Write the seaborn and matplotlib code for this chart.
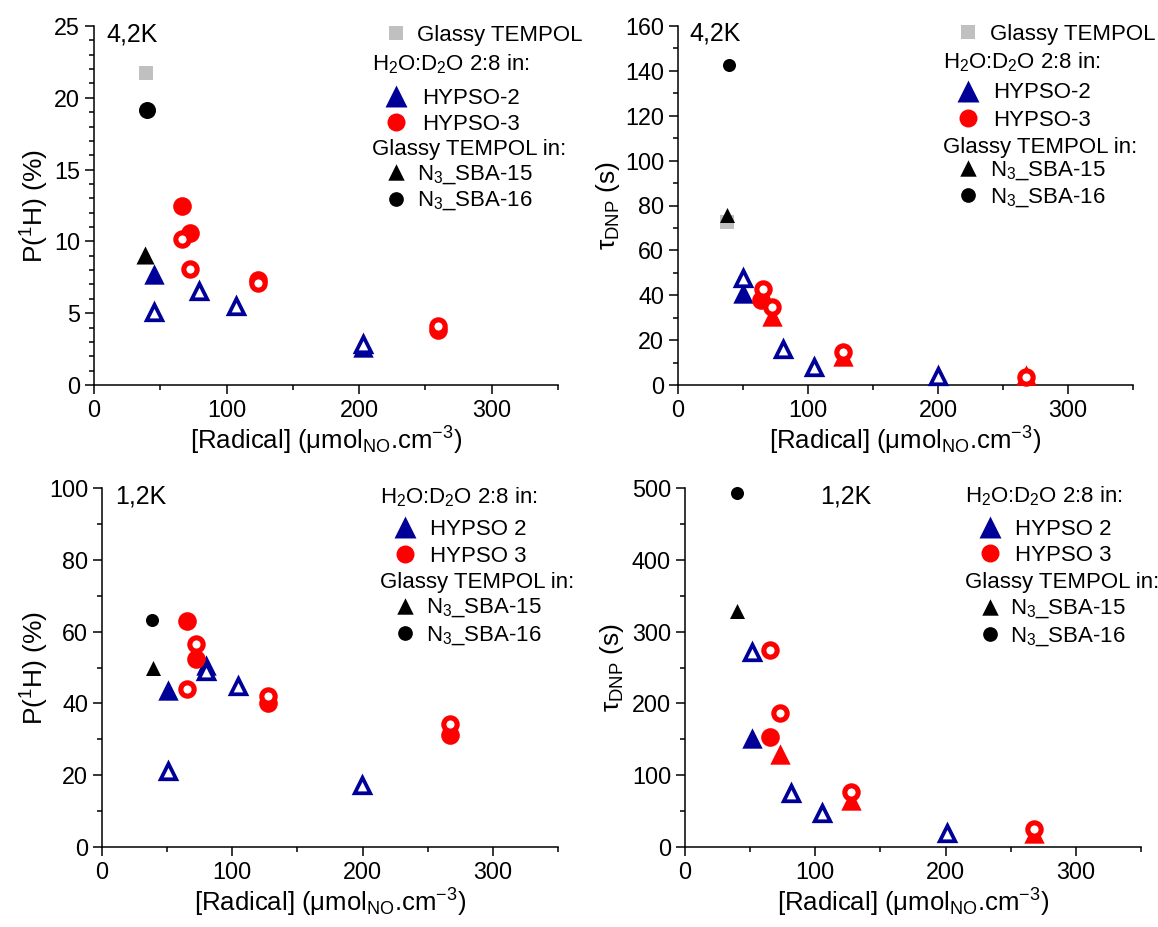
import matplotlib
matplotlib.use("Agg")
import matplotlib.pyplot as plt
from matplotlib.ticker import MultipleLocator
import seaborn as sns

sns.set_style("ticks")
plt.rcParams["font.family"] = ["Liberation Sans", "DejaVu Sans"]
plt.rcParams["mathtext.fontset"] = "custom"
plt.rcParams["mathtext.rm"] = "Liberation Sans"
plt.rcParams["mathtext.it"] = "Liberation Sans:italic"
plt.rcParams["mathtext.bf"] = "Liberation Sans:bold"
for key in ("text.color", "axes.labelcolor", "xtick.color", "ytick.color"):
    plt.rcParams[key] = "black"

BLUE = "#000099"
RED = "#ff0000"
GREY = "#c0c0c0"
FS_KEY = 16
FS_TICK = 16.8
FS_LAB = 18.5
FS_TEMP = 18

# ---- P(1H) at 4,2K
pol42_glassy_x = [39]
pol42_glassy_y = [21.7]
pol42_sba15_x = [38.5]
pol42_sba15_y = [9.05]
pol42_sba16_x = [40]
pol42_sba16_y = [19.15]
pol42_h2_fill_x = [45, 203]
pol42_h2_fill_y = [7.7, 2.65]
pol42_h2_open_x = [45, 79, 107, 203]
pol42_h2_open_y = [5.05, 6.55, 5.5, 2.85]
pol42_h3_fill_x = [66.5, 72.5, 124, 259.5]
pol42_h3_fill_y = [12.5, 10.6, 7.3, 3.85]
pol42_h3_open_x = [66.5, 72.5, 124, 259.5]
pol42_h3_open_y = [10.2, 8.1, 7.1, 4.1]

# ---- tau_DNP at 4,2K
tau42_glassy_x = [38]
tau42_glassy_y = [72.8]
tau42_sba15_x = [38]
tau42_sba15_y = [75.8]
tau42_sba16_x = [39]
tau42_sba16_y = [142.7]
tau42_h2_fill_x = [50]
tau42_h2_fill_y = [40.8]
tau42_h2_open_x = [50, 80.8, 104.4, 200]
tau42_h2_open_y = [47.7, 16, 7.8, 4.1]
tau42_h3_fill_x = [64]
tau42_h3_fill_y = [38.1]
tau42_h3_tri_x = [72.6, 127, 267.5]
tau42_h3_tri_y = [30.7, 13, 4.5]
tau42_h3_open_x = [65, 72.6, 127, 267.5]
tau42_h3_open_y = [42.9, 34.9, 14.9, 3.7]

# ---- P(1H) at 1,2K
pol12_sba15_x = [39.2]
pol12_sba15_y = [50]
pol12_sba16_x = [38.5]
pol12_sba16_y = [63.3]
pol12_h2_fill_x = [50.3, 80.2]
pol12_h2_fill_y = [43.7, 50.7]
pol12_h2_open_x = [50.3, 80.2, 104.5, 199.8]
pol12_h2_open_y = [21.2, 49, 44.8, 17.3]
pol12_h3_fill_x = [64.9, 72.5, 127.1, 267.3]
pol12_h3_fill_y = [62.9, 52.5, 40, 31.2]
pol12_h3_open_x = [64.9, 72.5, 127.1, 267.3]
pol12_h3_open_y = [44, 56.5, 42, 34.4]

# ---- tau_DNP at 1,2K
tau12_sba15_x = [40.2]
tau12_sba15_y = [328]
tau12_sba16_x = [40.2]
tau12_sba16_y = [493]
tau12_h2_fill_x = [51.3]
tau12_h2_fill_y = [152]
tau12_h2_open_x = [51.3, 81.3, 105.4, 200.8]
tau12_h2_open_y = [271, 75.5, 47, 20]
tau12_h3_fill_x = [65.4]
tau12_h3_fill_y = [153]
tau12_h3_tri_x = [73.1, 127.7, 268]
tau12_h3_tri_y = [129, 66, 20]
tau12_h3_open_x = [65.4, 73.1, 127.7, 268]
tau12_h3_open_y = [275, 186, 77, 24.6]

styles = {
    "glassy": dict(marker="s", s=112, color=GREY, linewidth=0),
    "sba15": dict(marker="^", s=117, color="black", linewidth=0),
    "sba16": dict(marker="o", s=88, color="black", linewidth=0),
    "h2_fill": dict(marker="^", s=215, color=BLUE, linewidth=0),
    "h3_fill": dict(marker="o", s=180, color=RED, linewidth=0),
    "h3_tri": dict(marker="^", s=215, color=RED, linewidth=0),
    "h2_open": dict(marker="^", s=125, facecolor="white", edgecolor=BLUE,
                    linewidth=2.7, joinstyle="miter"),
    "h3_open": dict(marker="o", s=92, facecolor="white", edgecolor=RED,
                    linewidth=3.7),
}

key_styles = {
    "glassy": dict(marker="s", s=112, color=GREY, linewidth=0),
    "h2": dict(marker="^", s=250, color=BLUE, linewidth=0),
    "h3": dict(marker="o", s=168, color=RED, linewidth=0),
    "sba15": dict(marker="^", s=140, color="black", linewidth=0),
    "sba16": dict(marker="o", s=112, color="black", linewidth=0),
}

W, H = 1158, 927
fig = plt.figure(figsize=(W / 100, H / 100), dpi=100)


def px_axes(l, t, r, b):
    ax = fig.add_axes([l / W, 1 - b / H, (r - l) / W, (b - t) / H])
    ax.px_box = (l, t, r, b)
    return ax


def draw(ax, series, big_black=False):
    for kind, xs, ys in series:
        st = dict(styles[kind])
        if big_black and kind == "sba15":
            st["s"] = 169
        if big_black and kind == "sba16":
            st["s"] = 150
        sns.scatterplot(x=xs, y=ys, ax=ax, zorder=3, clip_on=False, **st)


def style_axes(ax, ymax, ymaj, ymin, ylabel, ylab_x):
    ax.set_xlim(0, 350)
    ax.set_ylim(0, ymax)
    ax.xaxis.set_major_locator(MultipleLocator(100))
    ax.xaxis.set_minor_locator(MultipleLocator(50))
    ax.yaxis.set_major_locator(MultipleLocator(ymaj))
    ax.yaxis.set_minor_locator(MultipleLocator(ymin))
    sns.despine(ax=ax)
    for sp in ("left", "bottom"):
        ax.spines[sp].set_linewidth(1.1)
        ax.spines[sp].set_color("black")
    ax.tick_params(which="major", direction="out", length=6.5, width=1.1,
                   labelsize=FS_TICK, color="black", pad=3.5)
    ax.tick_params(which="minor", direction="out", length=3.6, width=1.1,
                   color="black")
    ax.set_xlabel(r"[Radical] (μmol$_{\rm NO}$.cm$^{-3}$)", fontsize=FS_LAB,
                  va="center")
    ax.xaxis.set_label_coords(0.5, -0.155)
    ax.set_ylabel(ylabel, fontsize=FS_LAB + 0.5, va="center")
    ax.yaxis.set_label_coords(ylab_x, 0.5)


def add_key(ax, rows, rows_y, x_head, x_mark, x_big, x_small):
    # positions in figure pixels, converted to axes fractions
    l, t, r, b = ax.px_box
    fx = lambda px: (px - l) / (r - l)
    fy = lambda py: (b - py) / (b - t)
    for (kind, label), py in zip(rows, rows_y):
        ty = fy(py + 2.5)
        if kind is None:
            ax.text(fx(x_head), ty, label, transform=ax.transAxes, ha="left",
                    va="center", fontsize=FS_KEY, clip_on=False)
            continue
        ax.scatter([fx(x_mark)], [fy(py)], transform=ax.transAxes,
                   clip_on=False, zorder=4, **key_styles[kind])
        tx = x_big if kind in ("h2", "h3") else x_small
        ax.text(fx(tx), ty, label, transform=ax.transAxes, ha="left",
                va="center", fontsize=FS_KEY, clip_on=False)


hdr1 = r"H$_2$O:D$_2$O 2:8 in:"
hdr2 = "Glassy TEMPOL in:"
rows_42 = [("glassy", "Glassy TEMPOL"), (None, hdr1), ("h2", "HYPSO-2"),
           ("h3", "HYPSO-3"), (None, hdr2), ("sba15", r"N$_3$_SBA-15"),
           ("sba16", r"N$_3$_SBA-16")]
rows_12 = [(None, hdr1), ("h2", "HYPSO 2"), ("h3", "HYPSO 3"),
           (None, hdr2), ("sba15", r"N$_3$_SBA-15"),
           ("sba16", r"N$_3$_SBA-16")]

# ---------- top left
ax1 = px_axes(94, 26, 558, 385)
draw(ax1, [
    ("glassy", pol42_glassy_x, pol42_glassy_y),
    ("sba16", pol42_sba16_x, pol42_sba16_y),
    ("sba15", pol42_sba15_x, pol42_sba15_y),
    ("h2_fill", pol42_h2_fill_x, pol42_h2_fill_y),
    ("h3_fill", pol42_h3_fill_x, pol42_h3_fill_y),
    ("h2_open", pol42_h2_open_x, pol42_h2_open_y),
    ("h3_open", pol42_h3_open_x, pol42_h3_open_y),
], big_black=True)
style_axes(ax1, 25, 5, 1, r"P($^{1}$H) (%)", -0.127)
ax1.text(0.026, 0.975, "4,2K", transform=ax1.transAxes, fontsize=FS_TEMP,
         ha="left", va="center")
add_key(ax1, rows_42, [33, 62, 96, 122, 147, 172.5, 198.5],
        372, 396, 422, 417)

# ---------- top right
ax2 = px_axes(678, 26, 1133, 385)
draw(ax2, [
    ("glassy", tau42_glassy_x, tau42_glassy_y),
    ("sba16", tau42_sba16_x, tau42_sba16_y),
    ("sba15", tau42_sba15_x, tau42_sba15_y),
    ("h2_fill", tau42_h2_fill_x, tau42_h2_fill_y),
    ("h3_fill", tau42_h3_fill_x, tau42_h3_fill_y),
    ("h3_tri", tau42_h3_tri_x, tau42_h3_tri_y),
    ("h2_open", tau42_h2_open_x, tau42_h2_open_y),
    ("h3_open", tau42_h3_open_x, tau42_h3_open_y),
])
style_axes(ax2, 160, 20, 10, r"τ$_{\rm DNP}$ (s)", -0.154)
ax2.text(0.026, 0.98, "4,2K", transform=ax2.transAxes, fontsize=FS_TEMP,
         ha="left", va="center")
add_key(ax2, rows_42, [32, 60, 90.5, 118, 145, 168, 195],
        943, 968, 993, 990)

# ---------- bottom left
ax3 = px_axes(102, 488, 558, 847)
draw(ax3, [
    ("sba16", pol12_sba16_x, pol12_sba16_y),
    ("sba15", pol12_sba15_x, pol12_sba15_y),
    ("h2_fill", pol12_h2_fill_x, pol12_h2_fill_y),
    ("h3_fill", pol12_h3_fill_x, pol12_h3_fill_y),
    ("h2_open", pol12_h2_open_x, pol12_h2_open_y),
    ("h3_open", pol12_h3_open_x, pol12_h3_open_y),
])
style_axes(ax3, 100, 20, 10, r"P($^{1}$H) (%)", -0.147)
ax3.text(0.0285, 0.975, "1,2K", transform=ax3.transAxes, fontsize=FS_TEMP,
         ha="left", va="center")
add_key(ax3, rows_12, [495, 526.7, 554, 580, 605.5, 633],
        380.5, 405, 430, 426.5)

# ---------- bottom right
ax4 = px_axes(685, 488, 1141, 847)
draw(ax4, [
    ("sba16", tau12_sba16_x, tau12_sba16_y),
    ("sba15", tau12_sba15_x, tau12_sba15_y),
    ("h2_fill", tau12_h2_fill_x, tau12_h2_fill_y),
    ("h3_fill", tau12_h3_fill_x, tau12_h3_fill_y),
    ("h3_tri", tau12_h3_tri_x, tau12_h3_tri_y),
    ("h2_open", tau12_h2_open_x, tau12_h2_open_y),
    ("h3_open", tau12_h3_open_x, tau12_h3_open_y),
])
style_axes(ax4, 500, 100, 50, r"τ$_{\rm DNP}$ (s)", -0.16)
ax4.text(0.296, 0.975, "1,2K", transform=ax4.transAxes, fontsize=FS_TEMP,
         ha="left", va="center")
add_key(ax4, rows_12, [493.5, 526.7, 553.3, 580, 606.5, 634],
        965, 990, 1015, 1010.5)

fig.savefig("out.png", dpi=100)
